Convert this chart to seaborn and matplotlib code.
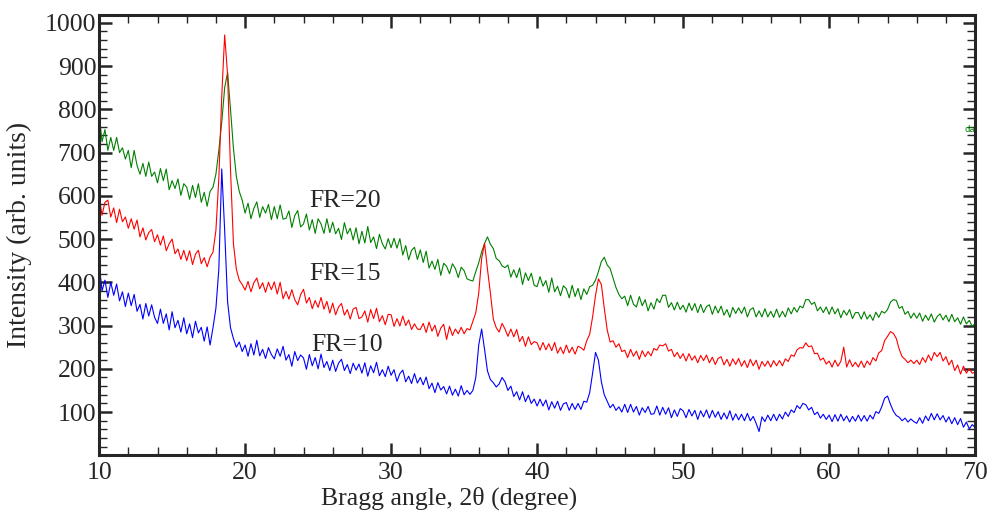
import numpy as np
import pandas as pd
import seaborn as sns
import matplotlib
matplotlib.use('Agg')
import matplotlib.pyplot as plt
from matplotlib.ticker import MultipleLocator

# 2theta grid, 0.2 degree step (10 values per row = 2 degrees)
two_theta = np.round(np.arange(10.0, 70.0001, 0.2), 1)

# FR=20 (green)
fr20 = [790, 725, 753, 705, 735, 705, 735, 700, 711, 685,
        705, 665, 705, 670, 650, 675, 645, 678, 645, 655,
        630, 663, 635, 662, 614, 635, 617, 639, 601, 628,
        620, 592, 624, 596, 628, 585, 608, 576, 610, 620,
        650, 705, 770, 850, 885, 800, 710, 645, 610, 590,
        560, 583, 547, 571, 586, 550, 575, 560, 580, 545,
        575, 547, 579, 546, 548, 565, 527, 554, 566, 528,
        535, 558, 521, 545, 513, 547, 535, 513, 547, 515,
        539, 512, 525, 499, 538, 512, 525, 498, 526, 489,
        518, 491, 529, 492, 505, 478, 511, 489, 477, 501,
        480, 502, 479, 501, 463, 485, 452, 474, 481, 453,
        475, 446, 472, 433, 449, 430, 453, 416, 444, 437,
        420, 443, 432, 411, 435, 427, 408, 405, 403, 425,
        445, 470, 490, 505, 488, 478, 455, 450, 438, 434,
        440, 412, 429, 411, 433, 395, 422, 404, 421, 393,
        390, 413, 391, 404, 377, 410, 378, 391, 369, 392,
        385, 364, 393, 367, 386, 360, 385, 372, 390, 393,
        405, 425, 448, 458, 440, 432, 410, 388, 372, 362,
        368, 346, 370, 349, 343, 367, 346, 360, 334, 353,
        338, 362, 353, 370, 370, 342, 353, 336, 354, 337,
        347, 331, 352, 335, 351, 330, 349, 330, 344, 348,
        326, 345, 329, 345, 324, 337, 319, 342, 328, 341,
        328, 343, 320, 337, 341, 320, 334, 320, 339, 320,
        333, 319, 338, 319, 333, 320, 341, 327, 342, 331,
        345, 341, 360, 360, 349, 354, 334, 343, 330, 343,
        326, 343, 327, 339, 318, 335, 324, 337, 316, 330,
        330, 315, 332, 315, 325, 312, 331, 319, 333, 329,
        337, 354, 360, 358, 340, 344, 326, 333, 317, 329,
        317, 329, 310, 324, 312, 327, 308, 321, 327, 313,
        324, 309, 326, 309, 318, 303, 320, 304, 312, 298,
        305]

# FR=15 (red)
fr15 = [600, 555, 585, 590, 551, 572, 538, 569, 540, 551,
        525, 547, 523, 544, 505, 526, 498, 515, 522, 494,
        510, 486, 507, 473, 489, 500, 466, 477, 453, 474,
        450, 473, 441, 465, 474, 443, 457, 436, 458, 470,
        520, 640, 830, 972, 880, 660, 490, 430, 405, 395,
        382, 402, 378, 399, 410, 385, 399, 377, 400, 383,
        401, 373, 400, 362, 379, 361, 383, 360, 348, 371,
        384, 352, 365, 339, 358, 342, 365, 338, 356, 329,
        352, 325, 343, 351, 324, 337, 315, 338, 342, 316,
        320, 334, 308, 337, 316, 340, 309, 323, 302, 326,
        325, 298, 316, 299, 322, 300, 313, 291, 304, 292,
        291, 305, 284, 308, 287, 301, 275, 294, 303, 268,
        298, 277, 292, 281, 296, 281, 293, 290, 310, 330,
        375, 455, 490, 430, 375, 315, 295, 285, 305, 292,
        275, 292, 274, 291, 263, 275, 252, 274, 256, 263,
        260, 243, 261, 244, 258, 242, 261, 236, 250, 235,
        255, 237, 250, 234, 252, 249, 243, 265, 280, 320,
        370, 408, 395, 340, 290, 262, 265, 250, 258, 240,
        243, 226, 245, 229, 241, 222, 242, 228, 240, 230,
        247, 243, 255, 253, 258, 241, 245, 228, 238, 224,
        235, 218, 235, 220, 230, 214, 231, 219, 232, 214,
        227, 210, 224, 228, 209, 222, 206, 223, 210, 224,
        206, 219, 203, 222, 207, 220, 199, 217, 206, 218,
        204, 219, 207, 219, 207, 223, 217, 232, 229, 244,
        249, 248, 260, 251, 253, 235, 236, 220, 225, 211,
        218, 204, 220, 206, 217, 250, 204, 221, 205, 215,
        204, 218, 203, 218, 209, 226, 218, 237, 242, 265,
        275, 286, 282, 270, 245, 228, 222, 214, 220, 212,
        220, 210, 226, 215, 232, 219, 238, 228, 238, 218,
        228, 209, 220, 196, 209, 188, 206, 190, 200, 190,
        192]

# FR=10 (blue)
fr10 = [445, 380, 405, 365, 400, 370, 396, 357, 378, 344,
        375, 346, 372, 333, 349, 315, 351, 322, 348, 319,
        305, 338, 305, 327, 290, 332, 295, 312, 285, 318,
        281, 304, 272, 310, 283, 296, 264, 297, 255, 295,
        340, 430, 662, 520, 355, 295, 270, 250, 262, 240,
        255, 229, 258, 232, 266, 230, 245, 224, 249, 233,
        223, 246, 229, 252, 220, 233, 206, 240, 219, 232,
        225, 199, 233, 207, 226, 200, 234, 203, 217, 196,
        220, 194, 213, 222, 196, 210, 189, 213, 197, 211,
        190, 214, 183, 207, 191, 215, 184, 198, 182, 206,
        185, 198, 171, 189, 197, 170, 183, 166, 189, 167,
        180, 163, 181, 154, 167, 145, 168, 151, 159, 142,
        160, 139, 153, 137, 161, 140, 150, 141, 150, 180,
        255, 292, 245, 195, 175, 168, 158, 165, 180, 170,
        150, 160, 136, 147, 128, 147, 124, 139, 120, 130,
        114, 130, 114, 128, 105, 124, 109, 125, 104, 119,
        122, 104, 120, 106, 120, 106, 125, 123, 145, 190,
        238, 220, 170, 140, 125, 110, 118, 104, 112, 100,
        118, 99, 118, 100, 113, 93, 110, 99, 113, 95,
        96, 114, 93, 111, 95, 110, 87, 105, 90, 108,
        103, 87, 106, 91, 104, 83, 103, 89, 105, 86,
        104, 88, 101, 83, 98, 84, 103, 81, 96, 82,
        95, 80, 97, 80, 90, 74, 55, 89, 78, 93,
        80, 95, 80, 95, 84, 100, 90, 105, 99, 115,
        108, 120, 117, 105, 111, 94, 100, 86, 95, 83,
        93, 78, 94, 79, 95, 80, 91, 77, 90, 79,
        93, 79, 92, 79, 93, 84, 101, 97, 112, 132,
        137, 118, 102, 92, 88, 80, 86, 77, 84, 78,
        74, 87, 74, 91, 80, 97, 82, 96, 82, 92,
        77, 89, 73, 87, 71, 85, 65, 77, 61, 71,
        64]

labels = ['FR=20', 'FR=15', 'FR=10']
colors = ['#008000', '#ff0000', '#0000ff']

sns.set_style('ticks')
plt.rcParams['font.family'] = ['Liberation Serif', 'DejaVu Serif']

fig = plt.figure(figsize=(9.91, 5.18), dpi=100)
ax = fig.add_axes([0.1, 0.121, 0.884, 0.850])

for ys, c in zip([fr20, fr15, fr10], colors):
    sns.lineplot(x=two_theta, y=ys, color=c, linewidth=0.8, estimator=None, ax=ax)

# curve labels
ax.text(24.4, 587, labels[0], fontsize=18.5, va='center', ha='left')
ax.text(24.4, 420, labels[1], fontsize=18.5, va='center', ha='left')
ax.text(24.5, 254, labels[2], fontsize=18.5, va='center', ha='left')
ax.text(69.3, 753, 'da', fontsize=6, color='#008000', family='DejaVu Sans', va='center')

ax.set_xlim(10, 70)
ax.set_ylim(0, 1018)
ax.set_xticks(range(10, 71, 10))
ax.set_yticks(range(100, 1001, 100))
ax.xaxis.set_minor_locator(MultipleLocator(2))
ax.yaxis.set_minor_locator(MultipleLocator(20))
ax.tick_params(which='both', direction='in', top=True, right=True, labelsize=18.5)
ax.tick_params(which='major', length=9, width=1.8)
ax.tick_params(which='minor', length=6, width=1.0)
ax.tick_params(axis='y', pad=2)
ax.tick_params(axis='x', pad=5)
for s in ax.spines.values():
    s.set_linewidth(2.2)

ax.set_xlabel('Bragg angle, 2θ (degree)', fontsize=18.5, labelpad=2, x=0.40)
ax.set_ylabel('Intensity (arb. units)', fontsize=20, labelpad=9)

fig.savefig('out.png', dpi=100)
